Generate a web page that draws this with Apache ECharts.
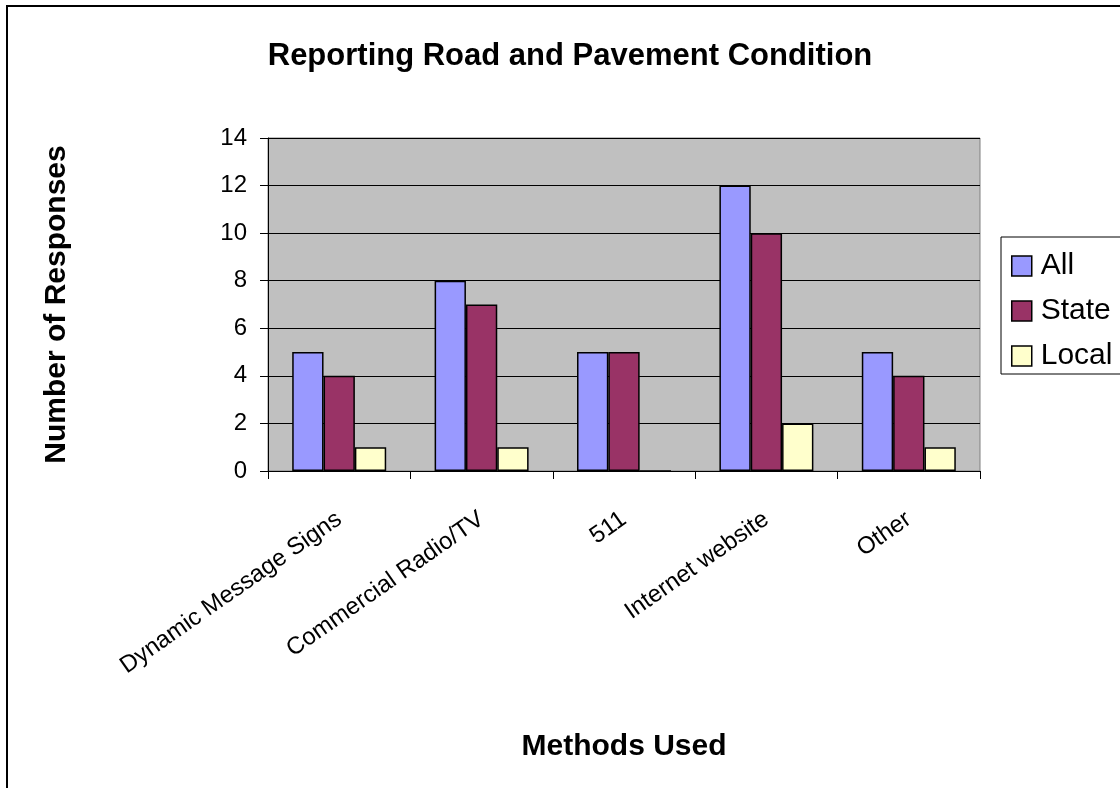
<!DOCTYPE html>
<html>
<head>
<meta charset="utf-8">
<script src="https://cdn.jsdelivr.net/npm/echarts@6/dist/echarts.min.js"></script>
<style>
  html, body { margin: 0; padding: 0; background: #fff; }
  #chart { width: 1120px; height: 788px; }
</style>
</head>
<body>
<div id="chart"></div>
<script>
// data
var methods = ['Dynamic Message Signs', 'Commercial Radio/TV', '511', 'Internet website', 'Other'];
var allVals = [5, 8, 5, 12, 5];
var stateVals = [4, 7, 5, 10, 4];
var localVals = [1, 1, 0, 2, 1];
var yTicks = { min: 0, max: 14, interval: 2 };

var chart = echarts.init(document.getElementById('chart'), null, { renderer: 'canvas' });
var font = 'Liberation Sans, Arial, sans-serif';

function barSeries(name, vals, color) {
  return {
    name: name,
    type: 'bar',
    data: vals,
    barGap: '0%',
    barCategoryGap: '34%',
    itemStyle: { color: color, borderColor: '#000', borderWidth: 1.5 },
    emphasis: { disabled: true }
  };
}

var option = {
  animation: false,
  backgroundColor: '#fff',
  textStyle: { fontFamily: font },
  title: {
    text: 'Reporting Road and Pavement Condition',
    left: 570,
    top: 41,
    textAlign: 'center',
    padding: 0,
    textStyle: { fontFamily: font, fontSize: 31, fontWeight: 'bold', color: '#000' }
  },
  legend: {
    data: ['All', 'State', 'Local'],
    orient: 'vertical',
    left: 1001,
    top: 237,
    padding: [14, 30, 3, 10],
    itemGap: 15,
    itemWidth: 20,
    itemHeight: 20,
    icon: 'rect',
    borderColor: '#000',
    borderWidth: 1,
    backgroundColor: '#fff',
    itemStyle: { borderColor: '#000', borderWidth: 1.5 },
    textStyle: { fontFamily: font, fontSize: 30, color: '#000', lineHeight: 30, padding: [0, 0, 0, 4] }
  },
  grid: {
    left: 268,
    right: 140,
    top: 138,
    bottom: 317,
    show: true,
    backgroundColor: '#C0C0C0',
    borderColor: '#808080',
    borderWidth: 1,
    containLabel: false
  },
  xAxis: {
    type: 'category',
    data: methods,
    name: 'Methods Used',
    nameLocation: 'middle',
    nameGap: 261,
    nameTextStyle: { fontFamily: font, fontSize: 30, fontWeight: 'bold', color: '#000' },
    axisLine: { lineStyle: { color: '#000', width: 1 } },
    axisTick: { show: true, length: 8, lineStyle: { color: '#000' } },
    axisLabel: { rotate: 35, fontFamily: font, fontSize: 24, color: '#000', margin: 46, interval: 0 },
    splitLine: { show: false }
  },
  yAxis: {
    type: 'value',
    min: yTicks.min,
    max: yTicks.max,
    interval: yTicks.interval,
    name: 'Number of Responses',
    nameLocation: 'middle',
    nameRotate: 90,
    nameGap: 196,
    nameTextStyle: { fontFamily: font, fontSize: 30, fontWeight: 'bold', color: '#000' },
    axisLine: { show: true, lineStyle: { color: '#000', width: 1 } },
    axisTick: { show: true, length: 8, lineStyle: { color: '#000' } },
    axisLabel: { fontFamily: font, fontSize: 24, color: '#000', margin: 21 },
    splitLine: { show: true, lineStyle: { color: '#000', width: 1 } }
  },
  series: [
    barSeries('All', allVals, '#9999FF'),
    barSeries('State', stateVals, '#993366'),
    barSeries('Local', localVals, '#FFFFCC')
  ],
  graphic: [{
    type: 'rect',
    silent: true,
    shape: { x: 7, y: 6, width: 1200, height: 900 },
    style: { fill: null, stroke: '#000', lineWidth: 2 }
  }]
};

chart.setOption(option);
</script>
</body>
</html>
